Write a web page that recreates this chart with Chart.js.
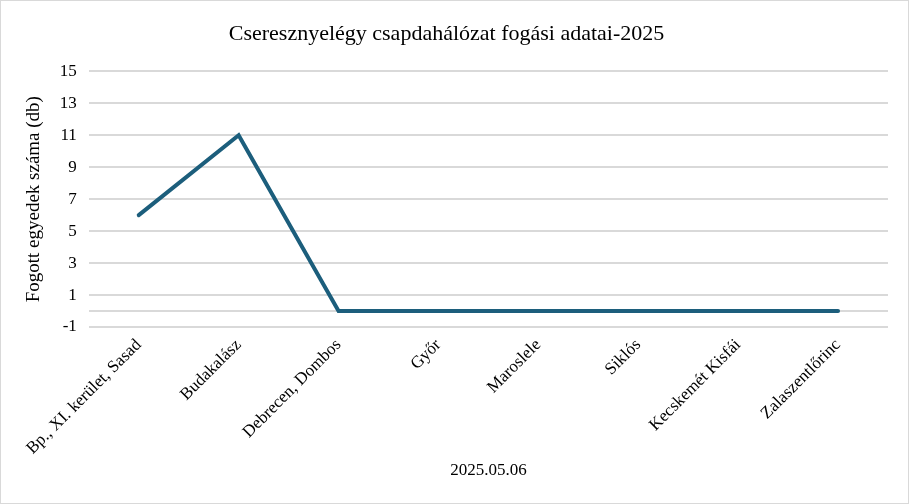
<!DOCTYPE html>
<html><head><meta charset="utf-8">
<script src="https://cdn.jsdelivr.net/npm/chart.js@4"></script>
<style>
html,body{margin:0;padding:0;background:#fff;}
#wrap{position:absolute;left:0;top:0;width:907px;height:502px;border:1px solid #d9d9d9;}
canvas{display:block;}
</style></head><body>
<div id="wrap"><canvas id="c" width="907" height="502"></canvas></div>
<script>
const categories = ["Bp., XI. kerület, Sasad","Budakalász","Debrecen, Dombos","Győr","Maroslele","Siklós","Kecskemét Kisfái","Zalaszentlőrinc"];
const values = [6, 11, 0, 0, 0, 0, 0, 0];
const yTicks = [-1, 0, 1, 3, 5, 7, 9, 11, 13, 15];
const yTickLabels = ["-1", "", "1", "3", "5", "7", "9", "11", "13", "15"];
const chartTitle = "Cseresznyelégy csapdahálózat fogási adatai-2025";
const yTitle = "Fogott egyedek száma (db)";
const xTitle = "2025.05.06";

const serif = "'Liberation Serif','Times New Roman',serif";
new Chart(document.getElementById('c'), {
  type: 'line',
  data: {
    labels: categories,
    datasets: [{
      data: values,
      borderColor: '#1c5e7c',
      backgroundColor: '#1c5e7c',
      borderWidth: 4,
      pointRadius: 0,
      tension: 0,
      borderCapStyle: 'round',
      borderJoinStyle: 'miter'
    }]
  },
  options: {
    responsive: false,
    animation: false,
    layout: { padding: { left: 4, right: 20, top: 12, bottom: 18 } },
    plugins: {
      legend: { display: false },
      tooltip: { enabled: false },
      title: {
        display: true, text: chartTitle, color: '#000',
        font: { family: serif, size: 22, weight: 'normal' },
        padding: { top: 8, bottom: 24 }
      }
    },
    scales: {
      x: {
        offset: true,
        grid: { display: false },
        border: { display: false },
        ticks: {
          color: '#000', font: { family: serif, size: 17 },
          maxRotation: 45, minRotation: 45, autoSkip: false, padding: 0
        },
        title: {
          display: true, text: xTitle, color: '#000',
          font: { family: serif, size: 17 }, padding: { top: 2 }
        }
      },
      y: {
        min: -1, max: 15,
        afterBuildTicks: (axis) => { axis.ticks = yTicks.map(v => ({ value: v })); },
        grid: { color: '#d9d9d9', lineWidth: 2, drawTicks: false },
        border: { display: false },
        ticks: {
          color: '#000', font: { family: serif, size: 17 }, padding: 12,
          callback: (v) => { const i = yTicks.indexOf(v); return i >= 0 ? yTickLabels[i] : ''; }
        },
        title: {
          display: true, text: yTitle, color: '#000',
          font: { family: serif, size: 19 }, padding: { top: 18, bottom: 2 }
        }
      }
    }
  }
});
</script>
</body></html>
